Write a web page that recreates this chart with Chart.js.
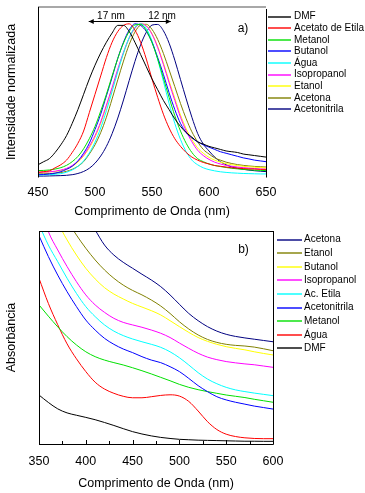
<!DOCTYPE html>
<html><head><meta charset="utf-8">
<script src="https://cdn.jsdelivr.net/npm/chart.js@4.4.0/dist/chart.umd.min.js"></script>
<style>
html,body{margin:0;padding:0;background:#fff;}
#wrap{position:relative;width:365px;height:493px;overflow:hidden;}
.box{position:absolute;left:0;width:365px;}
</style></head><body>
<div id="wrap">
<div class="box" style="top:0;height:225px"><canvas id="c1" width="365" height="225"></canvas></div>
<div class="box" style="top:225px;height:268px"><canvas id="c2" width="365" height="268"></canvas></div>
</div>
<script>
// ---------- (a) emission, normalized ----------
const emWl = [450,455,460,465,470,475,480,485,490,495,500,505,510,515,520,525,530,535,540,545,550,555,560,565,570,575,580,585,590,595,600,605,610,615,620,625,630,635,640,645,650];
const emNames = ['DMF','Acetato de Etila','Metanol','Butanol','Água','Isopropanol','Etanol','Acetona','Acetonitrila'];
const emColors = ['#000000','#ff0000','#00e000','#0000ff','#00ffff','#ff00ff','#ffff00','#808000','#000080'];
const emDMF  = [0.08,0.10,0.12,0.16,0.21,0.27,0.35,0.44,0.54,0.64,0.73,0.81,0.88,0.94,0.99,0.99,0.95,0.88,0.80,0.72,0.64,0.57,0.50,0.44,0.38,0.33,0.29,0.26,0.23,0.215,0.20,0.19,0.18,0.17,0.165,0.16,0.15,0.145,0.14,0.135,0.13];
const emAcEt = [0.03,0.035,0.04,0.06,0.08,0.11,0.16,0.22,0.30,0.42,0.54,0.66,0.78,0.88,0.95,0.99,1.0,0.96,0.88,0.77,0.64,0.52,0.41,0.32,0.25,0.20,0.16,0.13,0.11,0.095,0.085,0.075,0.07,0.065,0.06,0.058,0.055,0.053,0.052,0.05,0.05];
const emMet  = [0.042,0.043,0.046,0.052,0.061,0.076,0.10,0.134,0.184,0.25,0.33,0.43,0.54,0.66,0.775,0.875,0.95,0.993,0.996,0.957,0.877,0.77,0.646,0.52,0.40,0.30,0.22,0.16,0.12,0.10,0.085,0.075,0.068,0.062,0.057,0.053,0.05,0.047,0.045,0.043,0.042];
const emBut  = [0.015,0.016,0.02,0.025,0.035,0.05,0.07,0.105,0.155,0.22,0.31,0.41,0.53,0.65,0.775,0.88,0.96,1.0,0.99,0.95,0.88,0.78,0.67,0.55,0.44,0.35,0.29,0.255,0.23,0.21,0.195,0.18,0.165,0.155,0.145,0.135,0.125,0.118,0.11,0.105,0.10];
const emAgua = [0.013,0.014,0.015,0.018,0.022,0.031,0.046,0.069,0.105,0.157,0.228,0.32,0.433,0.558,0.688,0.81,0.91,0.977,1.0,0.97,0.888,0.767,0.625,0.48,0.35,0.245,0.165,0.11,0.08,0.06,0.048,0.04,0.034,0.03,0.027,0.025,0.023,0.022,0.021,0.02,0.02];
const emIso  = [0.031,0.032,0.034,0.038,0.045,0.056,0.075,0.103,0.143,0.20,0.27,0.36,0.47,0.585,0.705,0.815,0.908,0.972,1.0,0.986,0.932,0.845,0.735,0.615,0.50,0.39,0.30,0.23,0.175,0.14,0.115,0.097,0.085,0.076,0.07,0.065,0.061,0.058,0.055,0.052,0.05];
const emEta  = [0.03,0.031,0.033,0.036,0.042,0.052,0.07,0.097,0.137,0.19,0.26,0.35,0.46,0.575,0.695,0.808,0.905,0.97,1.0,0.988,0.937,0.852,0.745,0.627,0.515,0.405,0.315,0.245,0.19,0.155,0.128,0.11,0.097,0.087,0.08,0.075,0.07,0.067,0.064,0.062,0.06];
const emAcet = [0.02,0.021,0.022,0.025,0.029,0.037,0.05,0.07,0.10,0.15,0.21,0.29,0.39,0.51,0.635,0.757,0.865,0.946,0.992,0.997,0.964,0.898,0.807,0.70,0.59,0.48,0.38,0.295,0.23,0.18,0.15,0.125,0.11,0.097,0.088,0.081,0.076,0.072,0.069,0.067,0.065];
const emAcnt = [0.006,0.006,0.007,0.008,0.009,0.011,0.015,0.023,0.036,0.057,0.09,0.137,0.20,0.283,0.385,0.503,0.63,0.754,0.863,0.945,0.992,0.996,0.955,0.874,0.763,0.636,0.51,0.39,0.285,0.215,0.17,0.13,0.10,0.08,0.066,0.057,0.05,0.045,0.041,0.038,0.035];
const emSeries = [emDMF,emAcEt,emMet,emBut,emAgua,emIso,emEta,emAcet,emAcnt];
const emTicks = [450,500,550,600,650];

// ---------- (b) absorbance ----------
const abWl = [350,360,370,380,390,400,410,420,430,440,450,460,470,480,490,500,510,520,530,540,550,560,570,580,590,600];
const abNames = ['Acetona','Etanol','Butanol','Isopropanol','Ac. Etila','Acetonitrila','Metanol','Água','DMF'];
const abColors = ['#000080','#808000','#ffff00','#ff00ff','#00ffff','#0000ff','#00e000','#ff0000','#000000'];
const abAcet = [1.55,1.45,1.35,1.25,1.16,1.08,1.005,0.934,0.887,0.853,0.825,0.797,0.77,0.739,0.70,0.656,0.613,0.579,0.551,0.53,0.515,0.505,0.498,0.492,0.486,0.48];
const abEta  = [1.32,1.22,1.13,1.05,0.981,0.919,0.864,0.817,0.778,0.746,0.721,0.70,0.676,0.648,0.613,0.574,0.54,0.512,0.491,0.477,0.468,0.463,0.46,0.455,0.447,0.438];
const abBut  = [1.25,1.14,1.04,0.958,0.887,0.825,0.775,0.734,0.704,0.681,0.66,0.643,0.626,0.606,0.579,0.551,0.524,0.50,0.482,0.468,0.457,0.449,0.442,0.433,0.425,0.418];
const abIso  = [1.13,0.997,0.911,0.833,0.762,0.70,0.653,0.618,0.59,0.571,0.559,0.548,0.535,0.52,0.50,0.474,0.449,0.426,0.408,0.396,0.387,0.381,0.376,0.372,0.366,0.36];
const abAcEt = [1.03,0.934,0.856,0.778,0.707,0.645,0.598,0.559,0.53,0.509,0.493,0.48,0.468,0.454,0.433,0.405,0.371,0.335,0.305,0.283,0.266,0.254,0.246,0.239,0.233,0.227];
const abAcnt = [0.978,0.88,0.793,0.715,0.645,0.582,0.535,0.496,0.468,0.446,0.429,0.41,0.394,0.382,0.363,0.34,0.308,0.274,0.246,0.222,0.207,0.196,0.187,0.178,0.171,0.164];
const abMet  = [0.653,0.60,0.55,0.504,0.465,0.433,0.41,0.394,0.382,0.371,0.358,0.344,0.329,0.313,0.297,0.28,0.266,0.255,0.246,0.238,0.23,0.224,0.218,0.21,0.203,0.196];
const abAgua = [0.778,0.66,0.56,0.47,0.40,0.34,0.29,0.258,0.238,0.224,0.217,0.217,0.222,0.228,0.231,0.225,0.2,0.155,0.105,0.068,0.046,0.035,0.029,0.026,0.025,0.025];
const abDMF  = [0.23,0.195,0.165,0.146,0.135,0.125,0.114,0.101,0.087,0.072,0.058,0.047,0.038,0.031,0.026,0.022,0.02,0.018,0.017,0.016,0.015,0.014,0.013,0.013,0.0125,0.0125];
const abSeries = [abAcet,abEta,abBut,abIso,abAcEt,abAcnt,abMet,abAgua,abDMF];
const abTicks = [350,400,450,500,550,600];

const FONT = '"Liberation Sans", Arial, sans-serif';

function makeDatasets(wl, series, names, colors){
  return series.map((s,i)=>({
    label: names[i],
    data: wl.map((x,j)=>({x:x, y:s[j]})),
    borderColor: colors[i], backgroundColor: colors[i],
    borderWidth: 1, pointRadius: 0, fill: false,
    cubicInterpolationMode: 'monotone'
  }));
}

const framePlugin = {
  id: 'frame',
  afterDatasetsDraw(chart, args, o){
    const {ctx, chartArea:a} = chart;
    ctx.save();
    ctx.lineCap = 'butt';
    (o.lines||[]).forEach(l=>{
      ctx.strokeStyle = l.color; ctx.lineWidth = l.width;
      ctx.beginPath();
      if (l.side==='top'){ ctx.moveTo(a.left, a.top+l.off); ctx.lineTo(a.right, a.top+l.off); }
      if (l.side==='bottom'){ ctx.moveTo(a.left, a.bottom+0.5); ctx.lineTo(a.right+0.5, a.bottom+0.5); }
      if (l.side==='left'){ ctx.moveTo(a.left+0.5, a.top+(l.from||0)); ctx.lineTo(a.left+0.5, a.bottom+0.5); }
      if (l.side==='right'){ ctx.moveTo(a.right+0.5, a.top+(l.from||0)); ctx.lineTo(a.right+0.5, a.bottom+0.5); }
      ctx.stroke();
    });
    if (o.ticks){
      const xs = chart.scales.x;
      ctx.strokeStyle = '#000'; ctx.lineWidth = 1;
      o.ticks.major.forEach(v=>{ const px = Math.round(xs.getPixelForValue(v))+0.5; ctx.beginPath(); ctx.moveTo(px,a.bottom); ctx.lineTo(px,a.bottom-o.ticks.majLen); ctx.stroke(); });
      o.ticks.minor.forEach(v=>{ const px = Math.round(xs.getPixelForValue(v))+0.5; ctx.beginPath(); ctx.moveTo(px,a.bottom); ctx.lineTo(px,a.bottom-o.ticks.minLen); ctx.stroke(); });
    }
    ctx.restore();
  }
};

const legendPlugin = {
  id: 'sideLegend',
  afterDraw(chart, args, o){
    const {ctx, chartArea:a} = chart;
    ctx.save();
    ctx.font = o.size + 'px ' + FONT;
    ctx.textBaseline = 'middle'; ctx.textAlign = 'left';
    chart.data.datasets.forEach((d,i)=>{
      const y = o.y0 + i*o.dy;
      ctx.strokeStyle = d.borderColor; ctx.lineWidth = 1.4;
      ctx.beginPath(); ctx.moveTo(a.right+o.x1, Math.round(y)); ctx.lineTo(a.right+o.x2, Math.round(y)); ctx.stroke();
      ctx.fillStyle = '#000';
      ctx.fillText(d.label, a.right+o.tx, y);
    });
    ctx.restore();
  }
};

const notePlugin = {
  id: 'notes',
  afterDraw(chart, args, o){
    const {ctx} = chart; const xs = chart.scales.x, ys = chart.scales.y;
    ctx.save();
    ctx.fillStyle = '#000'; ctx.strokeStyle = '#000'; ctx.lineWidth = 1;
    ctx.textBaseline = 'middle'; ctx.textAlign = 'center';
    (o.texts||[]).forEach(t=>{
      ctx.font = t.size + 'px ' + FONT;
      ctx.fillText(t.text, xs.getPixelForValue(t.x), ys.getPixelForValue(t.y));
    });
    (o.arrows||[]).forEach(ar=>{
      const x1 = xs.getPixelForValue(ar.x1), x2 = xs.getPixelForValue(ar.x2);
      const y = Math.round(ys.getPixelForValue(ar.y))+0.5;
      ctx.beginPath(); ctx.moveTo(x1,y); ctx.lineTo(x2,y); ctx.stroke();
      ctx.beginPath(); ctx.moveTo(x1,y); ctx.lineTo(x1+5,y-2.5); ctx.lineTo(x1+5,y+2.5); ctx.closePath(); ctx.fill();
      ctx.beginPath(); ctx.moveTo(x2,y); ctx.lineTo(x2-5,y-2.5); ctx.lineTo(x2-5,y+2.5); ctx.closePath(); ctx.fill();
    });
    ctx.restore();
  }
};

function makeOptions(c){
  return {
    responsive: false, animation: false, devicePixelRatio: 1,
    layout: {padding: {left: 0, top: c.top, right: c.right, bottom: 0}},
    plugins: {
      legend: {display: false}, tooltip: {enabled: false},
      frame: c.frame, sideLegend: c.legend, notes: c.notes
    },
    scales: {
      x: {
        type: 'linear', min: c.xmin, max: c.xmax,
        afterBuildTicks(s){ s.ticks = c.xticks.map(v=>({value:v})); },
        ticks: {color: '#000', font: {family: FONT, size: 12.5}, padding: c.tickPad, maxRotation: 0, autoSkip: false},
        grid: {display: false, drawTicks: false}, border: {display: false},
        title: {display: true, text: 'Comprimento de Onda (nm)', color: '#000', font: {family: FONT, size: 12.5}, padding: {top: 0, bottom: c.titlePad}},
        afterFit(s){ s.height = c.xh; }
      },
      y: {
        type: 'linear', min: c.ymin, max: c.ymax,
        ticks: {display: false}, grid: {display: false, drawTicks: false}, border: {display: false},
        title: {display: true, text: c.ytitle, color: '#000', font: {family: FONT, size: 12.5}, padding: {top: 4.5, bottom: 0}},
        afterFit(s){ s.width = c.yw; }
      }
    }
  };
}

new Chart(document.getElementById('c1'), {
  type: 'line',
  data: {datasets: makeDatasets(emWl, emSeries, emNames, emColors)},
  options: makeOptions({
    top: 7, right: 99, xmin: 450, xmax: 650, xticks: emTicks, ymin: 0, ymax: 1.11,
    tickPad: 8.5, titlePad: 5.5, xh: 48, yw: 38, ytitle: 'Intensidade normalizada',
    frame: {lines: [
      {side:'top', color:'#a8a8a8', width:2, off:0},
      {side:'left', color:'#000', width:1},
      {side:'right', color:'#000', width:1, from:2}
    ]},
    legend: {x1: 2, x2: 25, tx: 28, y0: 16.7, dy: 11.58, size: 10},
    notes: {
      texts: [
        {text:'17 nm', x:514, y:1.052, size:10},
        {text:'12 nm', x:558.8, y:1.052, size:10},
        {text:'a)', x:629.8, y:0.967, size:12}
      ],
      arrows: [{x1:494.5, x2:566.5, y:1.02}]
    }
  }),
  plugins: [framePlugin, legendPlugin, notePlugin]
});

new Chart(document.getElementById('c2'), {
  type: 'line',
  data: {datasets: makeDatasets(abWl, abSeries, abNames, abColors)},
  options: makeOptions({
    top: 6, right: 92, xmin: 350, xmax: 600, xticks: abTicks, ymin: 0, ymax: 1,
    tickPad: 10.5, titlePad: 1.5, xh: 49, yw: 39, ytitle: 'Absorbância',
    frame: {lines: [
      {side:'top', color:'#000', width:1, off:0.5},
      {side:'bottom', color:'#000', width:1},
      {side:'left', color:'#000', width:1},
      {side:'right', color:'#000', width:1}
    ], ticks: {major:[400,450,500,550], minor:[375,425,475,525,575], majLen:4, minLen:3}},
    legend: {x1: 4, x2: 29, tx: 31, y0: 14.7, dy: 13.58, size: 10},
    notes: {texts: [{text:'b)', x:568.5, y:0.911, size:12}]}
  }),
  plugins: [framePlugin, legendPlugin, notePlugin]
});
</script>
</body></html>
